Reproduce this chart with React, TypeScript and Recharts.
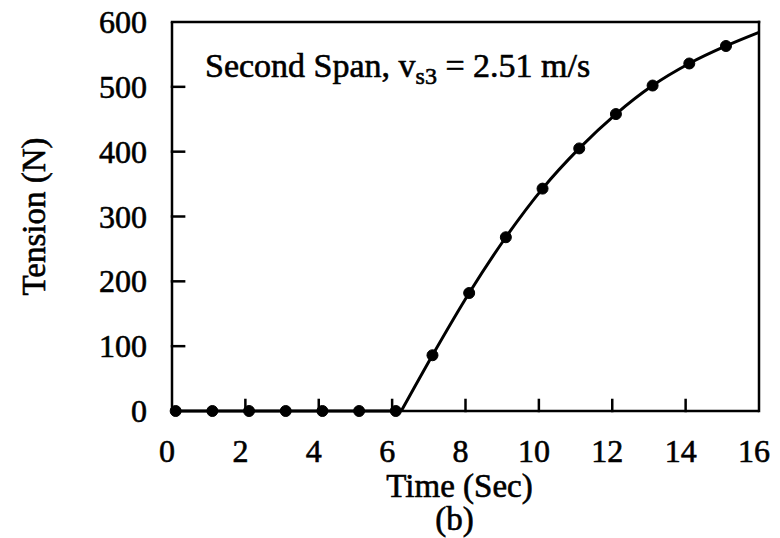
import React from 'react';
import { ComposedChart, Line, XAxis, YAxis, Label, Customized } from 'recharts';

// Measured data points (dots)
const pointTime = [0.1, 1.1, 2.1, 3.1, 4.1, 5.1, 6.1, 7.1, 8.1, 9.1, 10.1, 11.1, 12.1, 13.1, 14.1, 15.1];
const pointTension = [0, 0, 0, 0, 0, 0, 0, 86, 182, 268, 343, 405, 458, 502, 536, 563];

// Continuous curve: flat part, then rising part
const flatTime = [0, 6.25];
const flatTension = [0, 0];
const riseTime = [6.25, 7.1, 8.1, 9.1, 10.1, 11.1, 12.1, 13.1, 14.1, 15.1, 16];
const riseTension = [0, 86, 182, 268, 343, 405, 458, 502, 536, 563, 584];

const xTicks = [0, 2, 4, 6, 8, 10, 12, 14, 16];
const yTicks = [0, 100, 200, 300, 400, 500, 600];
const xInnerTicks = [2, 4, 6, 8, 10, 12, 14];
const yInnerTicks = [100, 200, 300, 400, 500];
const X_MIN = 0;
const X_MAX = 16;
const Y_MIN = 0;
const Y_MAX = 600;
// inward tick mark lengths, in data units
const X_TICK_LEN = 17; // tension units
const Y_TICK_LEN = 0.33; // seconds

const titleMain = 'Second Span, v';
const titleSub = 's3';
const titleRest = ' = 2.51 m/s';
const xLabel = 'Time (Sec)';
const caption = '(b)';
const yLabel = 'Tension (N)';

const points = pointTime.map((t, i) => ({ t, v: pointTension[i] }));
const flat = flatTime.map((t, i) => ({ t, v: flatTension[i] }));
const rise = riseTime.map((t, i) => ({ t, v: riseTension[i] }));

// frame and inward tick segments, drawn through the chart scales
const topBorder = [{ t: X_MIN, v: Y_MAX }, { t: X_MAX, v: Y_MAX }];
const rightBorder = [{ t: X_MAX, v: Y_MIN }, { t: X_MAX, v: Y_MAX }];
const xTickSegs = xInnerTicks.map((t) => [{ t, v: Y_MIN }, { t, v: Y_MIN + X_TICK_LEN }]);
const yTickSegs = yInnerTicks.map((v) => [{ t: X_MIN, v }, { t: X_MIN + Y_TICK_LEN, v }]);

const FONT = '"Liberation Serif", "Times New Roman", serif';
const TXT = { fontFamily: FONT, fill: '#000', stroke: '#000', strokeWidth: 0.6 };
const TICK_MARGIN = 10;

const XTick = (props: any) => {
  const { x, y, payload } = props;
  const axisY = y - TICK_MARGIN;
  return (
    <text x={x - 5} y={axisY + 51} textAnchor="middle" fontSize={32} {...TXT}>
      {payload.value}
    </text>
  );
};

const YTick = (props: any) => {
  const { x, y, payload } = props;
  const axisX = x + TICK_MARGIN;
  return (
    <text x={axisX - 25} y={y + 11} textAnchor="end" fontSize={32} {...TXT}>
      {payload.value}
    </text>
  );
};

const YLabelContent = (props: any) => {
  const vb = props.viewBox || { x: 0, y: 0, width: 0, height: 0 };
  const cx = vb.x + 37;
  const cy = vb.y + vb.height / 2;
  return (
    <text
      x={cx}
      y={cy}
      textAnchor="middle"
      transform={`rotate(-90, ${cx}, ${cy})`}
      fontSize={33}
      {...TXT}
    >
      {yLabel}
    </text>
  );
};

const XLabelContent = (props: any) => {
  const vb = props.viewBox || { x: 0, y: 0, width: 0, height: 0 };
  const cx = vb.x + vb.width / 2;
  const top = vb.y;
  return (
    <g>
      <text x={cx - 6} y={top + 86} textAnchor="middle" fontSize={33} {...TXT}>
        {xLabel}
      </text>
      <text x={cx - 11} y={top + 119} textAnchor="middle" fontSize={33} {...TXT}>
        {caption}
      </text>
    </g>
  );
};

const Title = () => (
  <text x={197} y={69} fontSize={34} {...TXT}>
    {titleMain}
    <tspan fontSize={24} dy={7}>{titleSub}</tspan>
    <tspan dy={-7}>{titleRest}</tspan>
  </text>
);

const segLine = (data: any[], key: string, width = 2.5) => (
  <Line
    key={key}
    data={data}
    dataKey="v"
    type="linear"
    stroke="#000"
    strokeWidth={width}
    strokeLinecap="square"
    dot={false}
    activeDot={false}
    legendType="none"
    isAnimationActive={false}
  />
);

export default function App() {
  return (
    <div style={{ width: 772, height: 530 }}>
      <ComposedChart width={772} height={530} margin={{ top: 14, right: 21, left: 0, bottom: 0 }}>
        <XAxis
          dataKey="t"
          type="number"
          domain={[X_MIN, X_MAX]}
          ticks={xTicks}
          height={127}
          axisLine={{ stroke: '#000', strokeWidth: 2.5 }}
          tickLine={false}
          tickSize={0}
          tickMargin={TICK_MARGIN}
          tick={<XTick />}
          interval={0}
        >
          <Label content={<XLabelContent />} />
        </XAxis>
        <YAxis
          type="number"
          domain={[Y_MIN, Y_MAX]}
          ticks={yTicks}
          width={164}
          axisLine={{ stroke: '#000', strokeWidth: 2.5 }}
          tickLine={false}
          tickSize={0}
          tickMargin={TICK_MARGIN}
          tick={<YTick />}
          interval={0}
        >
          <Label content={<YLabelContent />} />
        </YAxis>
        {segLine(topBorder, 'top')}
        {segLine(rightBorder, 'right')}
        {xTickSegs.map((d, i) => segLine(d, `xt${i}`))}
        {yTickSegs.map((d, i) => segLine(d, `yt${i}`))}
        <Line
          data={flat}
          dataKey="v"
          type="linear"
          stroke="#000"
          strokeWidth={3}
          dot={false}
          activeDot={false}
          isAnimationActive={false}
        />
        <Line
          data={rise}
          dataKey="v"
          type="monotone"
          stroke="#000"
          strokeWidth={3}
          dot={false}
          activeDot={false}
          isAnimationActive={false}
        />
        <Line
          data={points}
          dataKey="v"
          type="linear"
          stroke="none"
          strokeWidth={0}
          dot={{ r: 5.5, fill: '#000', stroke: '#000', strokeWidth: 1 }}
          activeDot={false}
          isAnimationActive={false}
        />
        <Customized component={<Title />} />
      </ComposedChart>
    </div>
  );
}
